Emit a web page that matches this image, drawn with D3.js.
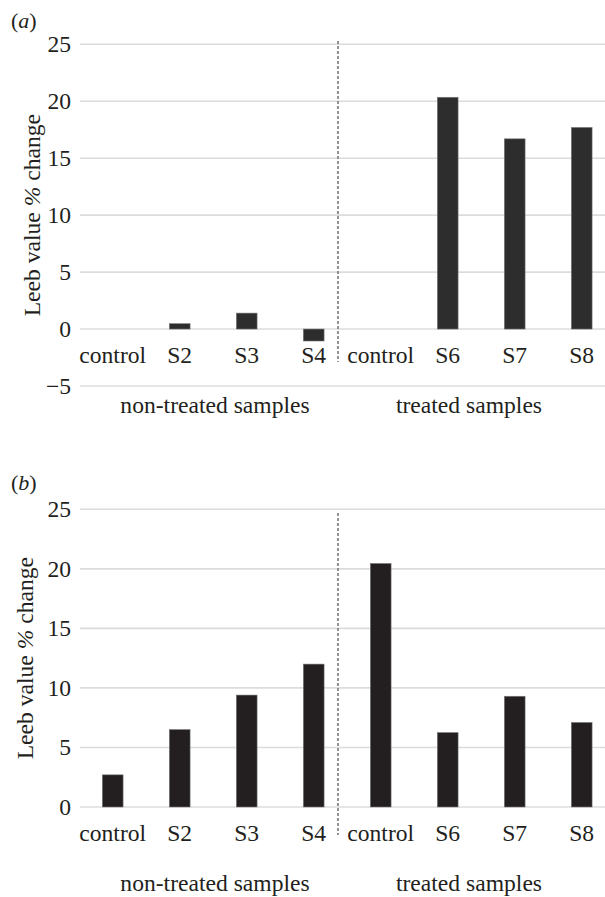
<!DOCTYPE html>
<html>
<head>
<meta charset="utf-8">
<script src="https://cdn.jsdelivr.net/npm/d3@7"></script>
</head>
<body style="margin:0">
<div id="chart"></div>
<script>
// chart data
const categories = ["control", "S2", "S3", "S4", "control", "S6", "S7", "S8"];
const groupLabels = ["non-treated samples", "treated samples"];
const valuesA = [0, 0.47, 1.4, -1.05, 0, 20.35, 16.7, 17.7];
const valuesB = [2.7, 6.5, 9.4, 12.0, 20.45, 6.25, 9.3, 7.1];
const ticksA = [-5, 0, 5, 10, 15, 20, 25];
const ticksB = [0, 5, 10, 15, 20, 25];

const width = 605;
const height = 897;
const textColor = "#231f20";
const serif = "\"Liberation Serif\"";
const fontSize = 23.6;

const svg = d3.select("#chart")
    .append("svg")
    .attr("width", width)
    .attr("height", height)
    .style("display", "block")
    .style("font-family", serif);

// 8 equal slots, bar centred in each
const x = d3.scaleBand()
    .domain(d3.range(categories.length))
    .range([79.2, 615.2])
    .paddingInner(0.69)
    .paddingOuter(0.345);

const panels = [
    {
        tag: "a", values: valuesA, ticks: ticksA, domain: [-5, 25],
        yRange: [386, 44.3], barFill: "#2e2d2e",
        tagY: 28, titleX: 40, labelBase: 363.3, groupBase: 413.3,
        divider: [41, 362]
    },
    {
        tag: "b", values: valuesB, ticks: ticksB, domain: [0, 25],
        yRange: [807, 509.3], barFill: "#231f20",
        tagY: 490, titleX: 33, labelBase: 840.7, groupBase: 890.5,
        divider: [513, 835]
    }
];

function addText(parent, size) {
    return parent.append("text")
        .attr("fill", textColor)
        .style("font-family", serif)
        .style("font-size", size + "px");
}

function drawPanel(p) {
    const y = d3.scaleLinear().domain(p.domain).range(p.yRange);
    const left = x.range()[0] + 0.8;

    // gridlines
    svg.append("g")
        .selectAll("line")
        .data(p.ticks)
        .join("line")
        .attr("x1", left)
        .attr("x2", width)
        .attr("y1", d => y(d))
        .attr("y2", d => y(d))
        .attr("stroke", "#dcdcdc")
        .attr("stroke-width", 1.6);

    // tick labels
    p.ticks.forEach(t => {
        addText(svg, fontSize)
            .attr("x", left - 9)
            .attr("y", y(t))
            .attr("dy", "0.34em")
            .attr("text-anchor", "end")
            .text(d3.format("")(t));
    });

    // divider between the two groups
    svg.append("line")
        .attr("x1", 338).attr("x2", 338)
        .attr("y1", p.divider[0]).attr("y2", p.divider[1])
        .attr("stroke", "#7a7a7a")
        .attr("stroke-width", 1.6)
        .attr("stroke-dasharray", "3,2");

    // bars
    svg.append("g")
        .selectAll("rect")
        .data(p.values)
        .join("rect")
        .attr("x", (d, i) => x(i))
        .attr("width", x.bandwidth())
        .attr("y", d => y(Math.max(0, d)))
        .attr("height", d => Math.abs(y(d) - y(0)))
        .attr("fill", p.barFill)
        .attr("stroke", d => d === 0 ? "none" : "#7a7a7a")
        .attr("stroke-width", 0.6);

    // category labels, just under the zero line
    categories.forEach((c, i) => {
        addText(svg, fontSize)
            .attr("x", x(i) + x.bandwidth() / 2)
            .attr("y", p.labelBase)
            .attr("text-anchor", "middle")
            .text(c);
    });

    // group labels
    groupLabels.forEach((label, i) => {
        addText(svg, fontSize)
            .attr("x", i === 0 ? 215 : 469)
            .attr("y", p.groupBase)
            .attr("text-anchor", "middle")
            .text(label);
    });

    // y title
    const midY = (p.yRange[0] + p.yRange[1]) / 2;
    const title = addText(svg, fontSize)
        .attr("transform", `translate(${p.titleX},${midY}) rotate(-90)`)
        .attr("text-anchor", "middle");
    title.append("tspan").text("Leeb value ");
    title.append("tspan").style("font-style", "italic").text("%");
    title.append("tspan").text(" change");

    // panel tag
    const tag = addText(svg, 22)
        .attr("x", 11)
        .attr("y", p.tagY);
    tag.append("tspan").text("(");
    tag.append("tspan").style("font-style", "italic").text(p.tag);
    tag.append("tspan").text(")");
}

panels.forEach(drawPanel);
</script>
</body>
</html>
